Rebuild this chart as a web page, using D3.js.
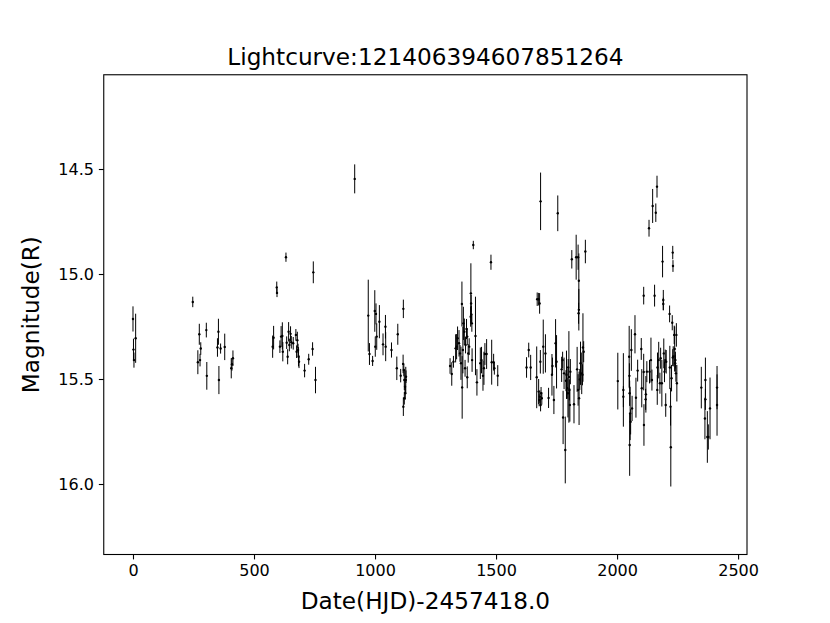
<!DOCTYPE html>
<html><head><meta charset="utf-8">
<script src="https://cdn.jsdelivr.net/npm/d3@7"></script>
<style>body{margin:0;background:#fff}svg{display:block}text{font-family:"DejaVu Sans",sans-serif;fill:#000}</style>
</head><body><svg id="c" width="830" height="623"></svg>
<script>
const title = "Lightcurve:121406394607851264";
const xLabel = "Date(HJD)-2457418.0";
const yLabel = "Magnitude(R)";
const xTicks = [0, 500, 1000, 1500, 2000, 2500];
const yTicks = [14.5, 15.0, 15.5, 16.0];
const yTickLabels = ["14.5", "15.0", "15.5", "16.0"];

const hjd = [0,2,4,11,247,268,274,277,280,303,305,349,353,355,362,379,406,409,413,
577,581,594,595,607,612,617,619,632,635,639,643,646,651,654,662,673,676,679,682,684,686,709,726,742,745,754,
916,972,977,990,999,1001,1004,1007,1018,1033,1043,1044,1068,1090,1094,1106,1116,1117,1117,1119,1121,1121,1124,1125,1127,1128,
1310,1317,1324,1333,1337,1341,1347,1351,1355,1359,1360,1363,1365,1369,1372,1374,1378,1381,1381,1385,1389,1395,1396,1397,1398,1400,1401,1406,1415,1421,1435,1440,1446,1450,1454,1461,1479,1482,1490,1493,1507,
1626,1635,1643,1668,1670,1676,1680,1684,1683,1676,1678,1681,1684,1686,1689,1695,1704,1717,1731,1733,1739,1746,1750,1755,1771,1775,1777,1781,1786,1789,1791,1794,1797,1798,1801,1803,1805,1807,1813,1822,1831,1839,1842,1842,1841,1835,1839,1843,1846,1849,1854,1857,1859,1862,1869,
2003,2026,2026,2050,2051,2052,2052,2054,2056,2059,2062,2074,2078,2085,2100,2102,2110,2110,2111,2118,2119,2123,2132,2134,2140,2144,2147,2155,2160,2165,2166,2167,2172,2177,2180,2185,2188,2191,2191,2193,2196,2199,2201,2203,2217,2218,2221,2222,2225,2228,2230,2230,2231,2232,2236,2238,2240,2241,2243,2245,2247,
2348,2363,2365,2365,2373,2377,2384,2413,2413];

const mag = [15.214,15.36,15.41,15.306,15.133,15.42,15.287,15.41,15.355,15.267,15.485,15.35,15.275,15.505,15.355,15.347,15.449,15.43,15.401,
15.346,15.303,15.064,15.09,15.346,15.298,15.295,15.37,14.92,15.327,15.394,15.275,15.338,15.285,15.325,15.33,15.29,15.37,15.315,15.362,15.394,15.418,15.46,15.406,15.357,14.992,15.505,
14.547,15.198,15.381,15.414,15.176,15.346,15.19,15.298,15.227,15.335,15.251,15.346,15.362,15.449,15.287,15.484,15.428,15.166,15.632,15.457,15.505,15.592,15.537,15.568,15.505,15.489,
15.438,15.476,15.418,15.354,15.346,15.306,15.33,15.378,15.425,15.143,15.54,15.362,15.235,15.275,15.449,15.338,15.262,15.298,15.492,15.378,15.346,15.203,15.092,15.14,15.192,15.235,15.41,14.862,15.295,15.516,15.425,15.41,15.485,15.449,15.381,15.381,14.944,15.42,15.42,15.449,15.484,
15.445,15.362,15.445,15.492,15.12,15.12,15.14,14.654,15.418,15.56,15.6,15.584,15.624,15.568,15.592,15.346,15.378,15.59,15.48,15.438,15.6,15.33,15.418,14.711,15.454,15.41,15.683,15.473,15.838,15.508,15.48,15.544,15.568,15.445,15.49,15.552,15.624,15.465,14.93,15.62,14.92,14.92,15.032,15.17,15.187,15.454,15.552,15.592,15.502,15.425,15.473,15.48,15.35,15.37,14.893,
15.51,15.552,15.584,15.394,15.485,15.568,15.814,15.664,15.704,15.362,15.64,15.287,15.589,15.46,15.357,15.544,15.103,15.467,15.719,15.597,15.573,15.465,14.782,15.465,15.41,15.505,14.676,15.103,14.708,14.584,15.552,15.445,15.41,15.52,15.401,15.52,14.941,15.124,15.143,15.378,15.465,15.41,15.624,15.418,15.19,15.445,15.632,15.825,15.496,15.232,14.898,15.398,14.962,15.392,15.29,15.357,15.425,15.41,15.473,15.29,15.52,
15.541,15.688,15.505,15.597,15.776,15.776,15.64,15.541,15.624];

const magErr = [0.060,0.052,0.036,0.117,0.025,0.057,0.05,0.03,0.03,0.035,0.066,0.044,0.062,0.067,0.024,0.063,0.048,0.03,0.037,
0.053,0.056,0.028,0.02,0.03,0.05,0.065,0.046,0.022,0.03,0.036,0.046,0.03,0.036,0.03,0.03,0.028,0.03,0.04,0.03,0.046,0.03,0.032,0.026,0.032,0.052,0.063,
0.069,0.171,0.052,0.024,0.099,0.048,0.05,0.063,0.079,0.052,0.056,0.069,0.036,0.056,0.05,0.032,0.044,0.044,0.044,0.03,0.048,0.03,0.03,0.03,0.063,0.03,
0.037,0.056,0.028,0.067,0.06,0.056,0.063,0.04,0.079,0.107,0.149,0.111,0.079,0.063,0.04,0.04,0.048,0.04,0.052,0.044,0.04,0.048,0.143,0.04,0.04,0.04,0.056,0.02,0.187,0.063,0.075,0.063,0.071,0.079,0.052,0.071,0.036,0.107,0.04,0.03,0.05,
0.049,0.035,0.06,0.147,0.032,0.03,0.049,0.137,0.056,0.06,0.03,0.03,0.03,0.03,0.03,0.129,0.091,0.048,0.099,0.04,0.067,0.115,0.127,0.085,0.06,0.04,0.127,0.075,0.159,0.05,0.115,0.05,0.115,0.04,0.218,0.05,0.079,0.06,0.044,0.091,0.107,0.06,0.13,0.099,0.05,0.107,0.075,0.127,0.05,0.103,0.099,0.05,0.163,0.05,0.056,
0.135,0.175,0.05,0.147,0.06,0.06,0.147,0.127,0.06,0.099,0.06,0.091,0.095,0.052,0.052,0.091,0.042,0.087,0.099,0.05,0.087,0.05,0.04,0.056,0.107,0.05,0.081,0.052,0.044,0.052,0.071,0.071,0.087,0.05,0.05,0.111,0.075,0.048,0.03,0.071,0.05,0.05,0.056,0.056,0.04,0.103,0.09,0.187,0.063,0.036,0.032,0.04,0.028,0.048,0.044,0.107,0.04,0.04,0.04,0.056,0.087,
0.099,0.099,0.107,0.05,0.123,0.06,0.147,0.103,0.146];

const W = 830, H = 623;
const m = {left: 103.75, right: 747, top: 74.76, bottom: 554.5};
const svg = d3.select("#c");

const x = d3.scaleLinear().domain([-120.8, 2536.8]).range([m.left, m.right]);
const y = d3.scaleLinear().domain([14.0512, 16.3357]).range([m.top, m.bottom]);

const pts = hjd.map((d, i) => ({t: d, m: mag[i], e: magErr[i]}));

const g = svg.append("g");
g.selectAll("line.err").data(pts).join("line").attr("class", "err")
  .attr("x1", d => x(d.t)).attr("x2", d => x(d.t))
  .attr("y1", d => y(d.m - d.e)).attr("y2", d => y(d.m + d.e))
  .attr("stroke", "#000").attr("stroke-width", 1);
g.selectAll("circle").data(pts).join("circle")
  .attr("cx", d => x(d.t)).attr("cy", d => y(d.m)).attr("r", 1.2).attr("fill", "#000");

// frame
svg.append("rect").attr("x", m.left).attr("y", m.top)
  .attr("width", m.right - m.left).attr("height", m.bottom - m.top)
  .attr("fill", "none").attr("stroke", "#000").attr("stroke-width", 1.1);

const xAxis = d3.axisBottom(x).tickValues(xTicks).tickSize(4.9).tickPadding(4.9).tickFormat(d3.format("d"));
const xg = svg.append("g").attr("transform", `translate(0,${m.bottom})`).call(xAxis);
const yAxis = d3.axisLeft(y).tickValues(yTicks).tickSize(4.9).tickPadding(4.9).tickFormat((d, i) => yTickLabels[i]);
const yg = svg.append("g").attr("transform", `translate(${m.left},0)`).call(yAxis);
[xg, yg].forEach(a => {
  a.select(".domain").remove();
  a.selectAll(".tick line").attr("stroke", "#000").attr("stroke-width", 1.1);
  a.selectAll(".tick text").attr("font-family", "DejaVu Sans").attr("font-size", 16).attr("fill", "#000");
});

svg.append("text").attr("x", (m.left + m.right) / 2).attr("y", 64.5)
  .attr("text-anchor", "middle").attr("font-size", 23.2).text(title);
svg.append("text").attr("x", (m.left + m.right) / 2).attr("y", 609)
  .attr("text-anchor", "middle").attr("font-size", 23.2).text(xLabel);
svg.append("text").attr("transform", `translate(38.5,${(m.top + m.bottom) / 2}) rotate(-90)`)
  .attr("text-anchor", "middle").attr("font-size", 23.2).text(yLabel);
</script></body></html>
